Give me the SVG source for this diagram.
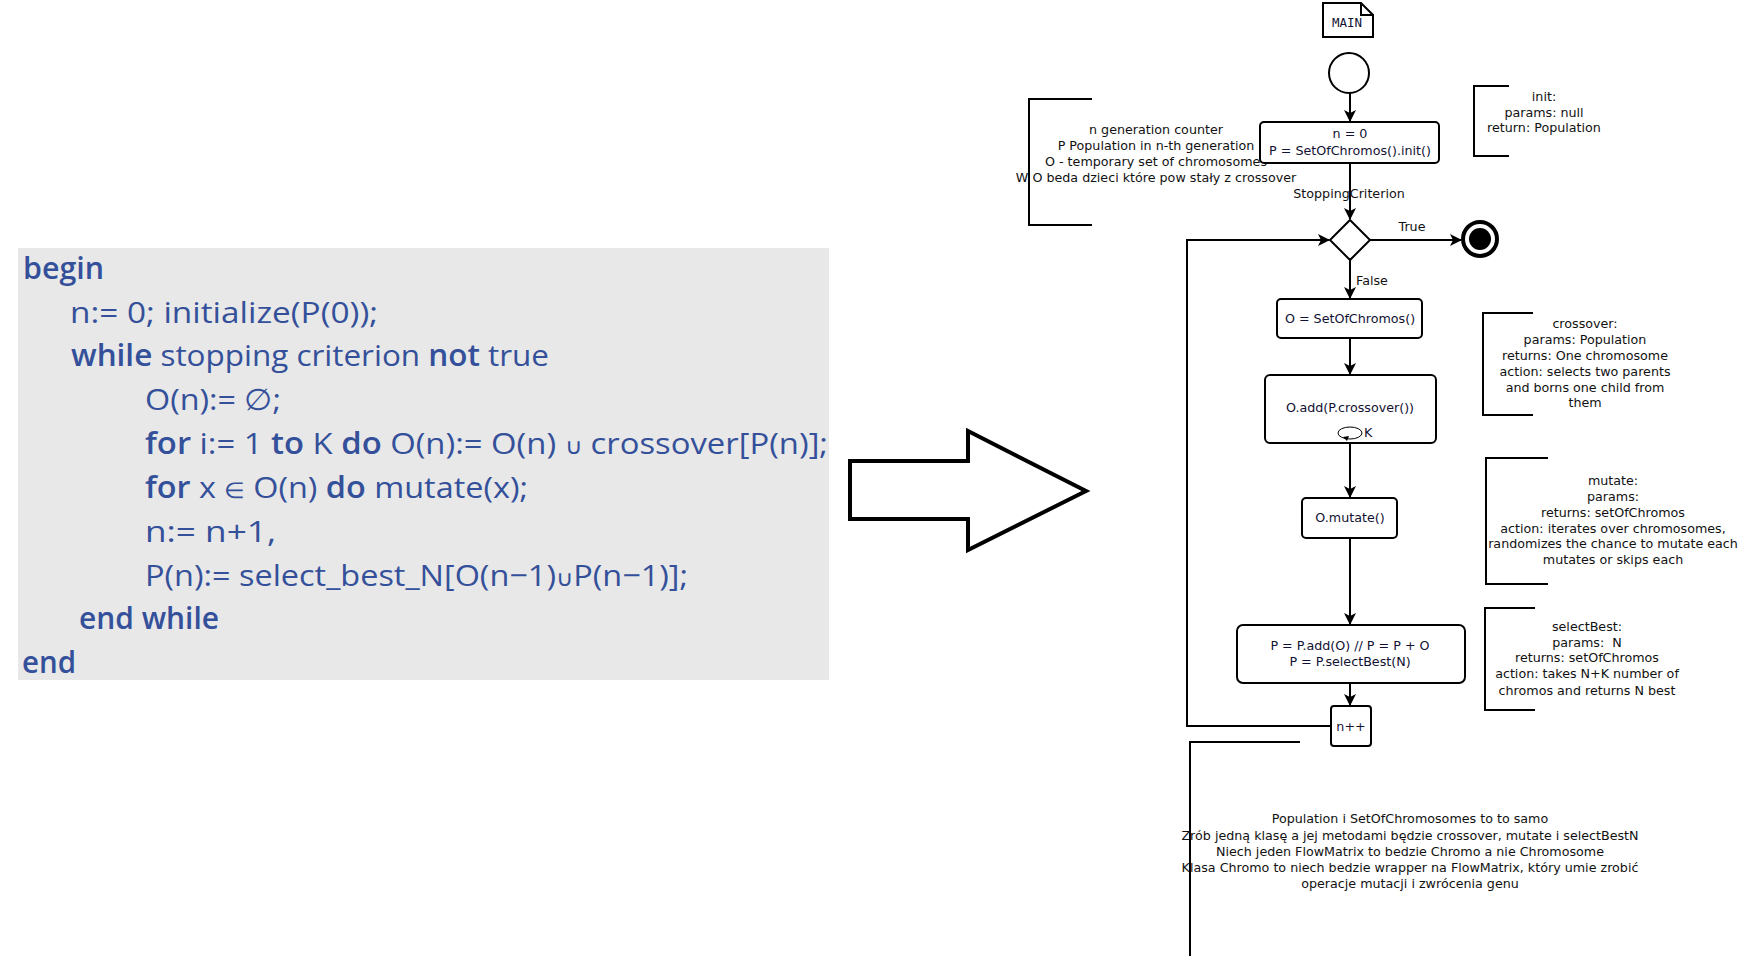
<svg xmlns="http://www.w3.org/2000/svg" width="1756" height="968" viewBox="0 0 1756 968">
<style>
.node{fill:#fff;stroke:#000;stroke-width:2}
.conn{fill:none;stroke:#000;stroke-width:2}
.br{fill:none;stroke:#000;stroke-width:2}
.t{font-family:"DejaVu Sans",sans-serif;font-size:12.7px;fill:#111;text-anchor:middle}
.nt{font-family:"DejaVu Sans",sans-serif;font-size:12.7px;fill:#111133;text-anchor:middle}
.code{font-family:"Open Sans","Liberation Sans",sans-serif;font-size:30px;fill:#34509a}
.b{font-weight:600}
.sym{font-size:22px}
</style>
<defs>
<marker id="ah" markerWidth="12" markerHeight="12" refX="11" refY="6" orient="auto" markerUnits="userSpaceOnUse">
<path d="M0,0 L12,6 L0,12 L3,6 Z" fill="#000"/>
</marker>
</defs>
<rect width="1756" height="968" fill="#fff"/>

<g id="pseudocode">
<rect x="18" y="248" width="811" height="432" fill="#e8e8e8"/>
<text class="code" x="23" y="279" textLength="81" lengthAdjust="spacingAndGlyphs"><tspan class="b">begin</tspan></text>
<text class="code" x="70" y="323" textLength="308" lengthAdjust="spacingAndGlyphs">n:= 0; initialize(P(0));</text>
<text class="code" x="71" y="366" textLength="478" lengthAdjust="spacingAndGlyphs"><tspan class="b">while</tspan> stopping criterion <tspan class="b">not</tspan> true</text>
<text class="code" x="145" y="410" textLength="136" lengthAdjust="spacingAndGlyphs">O(n):= ∅;</text>
<text class="code" x="145" y="454" textLength="683" lengthAdjust="spacingAndGlyphs"><tspan class="b">for</tspan> i:= 1 <tspan class="b">to</tspan> K <tspan class="b">do</tspan> O(n):= O(n) <tspan class="sym">∪</tspan> crossover[P(n)];</text>
<text class="code" x="145" y="498" textLength="383" lengthAdjust="spacingAndGlyphs"><tspan class="b">for</tspan> x <tspan class="sym">∈</tspan> O(n) <tspan class="b">do</tspan> mutate(x);</text>
<text class="code" x="145" y="542" textLength="131" lengthAdjust="spacingAndGlyphs">n:= n+1,</text>
<text class="code" x="145" y="586" textLength="543" lengthAdjust="spacingAndGlyphs">P(n):= select_best_N[O(n−1)<tspan class="sym">∪</tspan>P(n−1)];</text>
<text class="code" x="79" y="629" textLength="140" lengthAdjust="spacingAndGlyphs"><tspan class="b">end while</tspan></text>
<text class="code" x="22" y="673" textLength="54" lengthAdjust="spacingAndGlyphs"><tspan class="b">end</tspan></text>
</g>

<g id="big-arrow">
<polygon points="850,461 968,461 968,431 1086,491 968,550 968,519 850,519" fill="#fff" stroke="#000" stroke-width="4" stroke-linejoin="miter"/>
</g>

<g id="note-vars">
<path class="br" d="M1092,99 H1029 V225 H1092"/>
<text class="t" x="1156" y="134">n generation counter</text>
<text class="t" x="1156" y="150">P Population in n-th generation</text>
<text class="t" x="1156" y="166">O - temporary set of chromosomes</text>
<text class="t" x="1156" y="182">W O beda dzieci które pow stały z crossover</text>
</g>

<g id="note-init">
<path class="br" d="M1509,86 H1474 V156 H1509"/>
<text class="t" x="1544" y="101">init:</text>
<text class="t" x="1544" y="117">params: null</text>
<text class="t" x="1544" y="132">return: Population</text>
</g>

<g id="note-crossover">
<path class="br" d="M1533,313 H1483 V415 H1533"/>
<text class="t" x="1585" y="328">crossover:</text>
<text class="t" x="1585" y="344">params: Population</text>
<text class="t" x="1585" y="360">returns: One chromosome</text>
<text class="t" x="1585" y="376">action: selects two parents</text>
<text class="t" x="1585" y="392">and borns one child from</text>
<text class="t" x="1585" y="407">them</text>
</g>

<g id="note-mutate">
<path class="br" d="M1548,458 H1486 V584 H1548"/>
<text class="t" x="1613" y="485">mutate:</text>
<text class="t" x="1613" y="501">params:</text>
<text class="t" x="1613" y="517">returns: setOfChromos</text>
<text class="t" x="1613" y="533">action: iterates over chromosomes,</text>
<text class="t" x="1613" y="548">randomizes the chance to mutate each</text>
<text class="t" x="1613" y="564">mutates or skips each</text>
</g>

<g id="note-selectbest">
<path class="br" d="M1535,608 H1485 V710 H1535"/>
<text class="t" x="1587" y="631">selectBest:</text>
<text class="t" x="1587" y="647" xml:space="preserve">params:  N</text>
<text class="t" x="1587" y="662">returns: setOfChromos</text>
<text class="t" x="1587" y="678">action: takes N+K number of</text>
<text class="t" x="1587" y="695">chromos and returns N best</text>
</g>

<g id="note-bottom">
<path class="br" d="M1300,742 H1190 V956"/>
<text class="t" x="1410" y="823">Population i SetOfChromosomes to to samo</text>
<text class="t" x="1410" y="840">Zrób jedną klasę a jej metodami będzie crossover, mutate i selectBestN</text>
<text class="t" x="1410" y="856">Niech jeden FlowMatrix to bedzie Chromo a nie Chromosome</text>
<text class="t" x="1410" y="872">Klasa Chromo to niech bedzie wrapper na FlowMatrix, który umie zrobić</text>
<text class="t" x="1410" y="888">operacje mutacji i zwrócenia genu</text>
</g>

<g id="connectors">
<path class="conn" d="M1350,93 V121" marker-end="url(#ah)"/>
<path class="conn" d="M1350,163 V219" marker-end="url(#ah)"/>
<path class="conn" d="M1370,240 H1461" marker-end="url(#ah)"/>
<path class="conn" d="M1350,260 V298" marker-end="url(#ah)"/>
<path class="conn" d="M1350,338 V374" marker-end="url(#ah)"/>
<path class="conn" d="M1350,443 V497" marker-end="url(#ah)"/>
<path class="conn" d="M1350,538 V624" marker-end="url(#ah)"/>
<path class="conn" d="M1350,683 V705" marker-end="url(#ah)"/>
<path class="conn" d="M1331,726 H1187 V240 H1329" marker-end="url(#ah)"/>
<text class="t" x="1349" y="198">StoppingCriterion</text>
<text class="t" x="1412" y="231">True</text>
<text class="t" x="1356" y="285" style="text-anchor:start">False</text>
</g>

<g id="main-label">
<path class="node" d="M1323,3 H1361 L1373,15 V37 H1323 Z"/>
<path class="conn" d="M1361,3 V15 H1373"/>
<text x="1347" y="27" style="font-family:'DejaVu Sans Mono',monospace;font-size:12.5px;fill:#111133;text-anchor:middle">MAIN</text>
</g>

<g id="start">
<circle class="node" cx="1349" cy="73" r="20"/>
</g>

<g id="init">
<rect class="node" x="1260" y="122" width="179" height="41" rx="4"/>
<text class="nt" x="1350" y="138">n = 0</text>
<text class="nt" x="1350" y="155">P = SetOfChromos().init()</text>
</g>

<g id="decision">
<polygon class="node" points="1350,220 1370,240 1350,260 1330,240"/>
</g>

<g id="end">
<circle cx="1480" cy="239" r="17" fill="#fff" stroke="#000" stroke-width="4"/>
<circle cx="1480" cy="239" r="11" fill="#000"/>
</g>

<g id="new-offspring">
<rect class="node" x="1277" y="299" width="145" height="39" rx="4"/>
<text class="nt" x="1350" y="323">O = SetOfChromos()</text>
</g>

<g id="crossover">
<rect class="node" x="1265" y="375" width="171" height="68" rx="5"/>
<text class="nt" x="1350" y="412">O.add(P.crossover())</text>
<ellipse cx="1350" cy="433" rx="12" ry="6" fill="none" stroke="#000" stroke-width="1"/>
<path d="M1343,437 L1347,441 L1349,436 Z" fill="#000"/>
<text class="nt" x="1364" y="437" style="text-anchor:start">K</text>
</g>

<g id="mutate">
<rect class="node" x="1302" y="498" width="95" height="40" rx="4"/>
<text class="nt" x="1350" y="522">O.mutate()</text>
</g>

<g id="select">
<rect class="node" x="1237" y="625" width="228" height="58" rx="6"/>
<text class="nt" x="1350" y="650">P = P.add(O) // P = P + O</text>
<text class="nt" x="1350" y="666">P = P.selectBest(N)</text>
</g>

<g id="increment">
<rect class="node" x="1331" y="706" width="40" height="40" rx="3"/>
<text class="nt" x="1351" y="731">n++</text>
</g>
</svg>
